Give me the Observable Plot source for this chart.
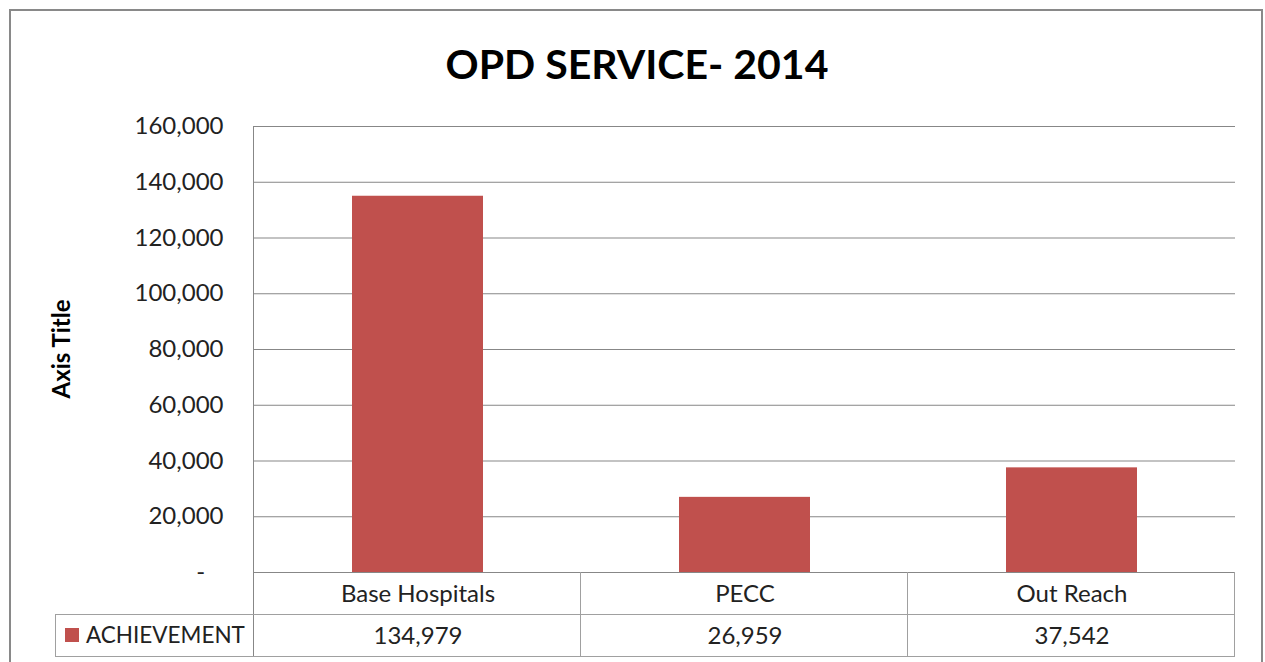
<!DOCTYPE html>
<html>
<head>
<meta charset="utf-8">
<script src="https://cdn.jsdelivr.net/npm/d3@7"></script>
<script src="https://cdn.jsdelivr.net/npm/@observablehq/plot@0.6"></script>
<style>
  html, body { margin: 0; padding: 0; background: #fff; }
  #chart svg { display: block; }
</style>
</head>
<body>
<div id="chart"></div>
<script>
const titleText = "OPD SERVICE- 2014";
const axisTitle = "Axis Title";
const seriesName = "ACHIEVEMENT";
const categories = ["Base Hospitals", "PECC", "Out Reach"];
const values = [134979, 26959, 37542];
const yTicks = [0, 20000, 40000, 60000, 80000, 100000, 120000, 140000, 160000];

const data = categories.map((c, i) => ({category: c, value: values[i]}));
const fmt = d3.format(",");
const barColor = "#C0504D";
const gridColor = "#878787";
const tableColor = "#A0A0A0";
const textColor = "#222";
const font = "Lato, 'Open Sans', sans-serif";
const fs = 24;

const W = 1265, H = 662;
const mL = 253, mR = 30, mT = 126, mB = 90;

const plot = Plot.plot({
  width: W,
  height: H,
  marginLeft: mL,
  marginRight: mR,
  marginTop: mT,
  marginBottom: mB,
  style: {fontFamily: font, fontSize: fs + "px", color: "#000", background: "#fff"},
  x: {domain: categories, paddingInner: 0.6, paddingOuter: 0.3, axis: null},
  y: {domain: [0, 160000], axis: null},
  marks: [
    Plot.ruleY(yTicks, {stroke: gridColor, strokeWidth: 1}),
    Plot.barY(data, {x: "category", y: "value", fill: barColor}),
    Plot.axisY({
      ticks: yTicks,
      tickSize: 0,
      tickPadding: 30,
      label: null,
      tickFormat: d => d === 0 ? "-\u00a0\u00a0\u00a0" : fmt(d),
      fontSize: fs,
      fill: textColor
    }),
    Plot.text(data, {x: "category", text: "category", frameAnchor: "bottom", lineAnchor: "middle", dy: 22, fontSize: fs, fill: textColor}),
    Plot.text(data, {x: "category", text: d => fmt(d.value), frameAnchor: "bottom", lineAnchor: "middle", dy: 64, fontSize: fs, fill: textColor})
  ]
});

document.getElementById("chart").appendChild(plot);

// decorations using the plot's own scales
const svg = d3.select(plot);
const xs = plot.scale("x");
const step = xs.step;
const x0 = xs.range[0];
const x1 = xs.range[1];
const yBase = H - mB;
const row1 = yBase + 42, row2 = yBase + 84;
const g = svg.append("g").attr("fill", "none").attr("shape-rendering", "crispEdges");

// left axis line
g.append("line").attr("x1", x0).attr("x2", x0).attr("y1", mT).attr("y2", row2).attr("stroke", gridColor);
// table horizontals
g.append("line").attr("x1", 55).attr("x2", x1).attr("y1", row1).attr("y2", row1).attr("stroke", tableColor);
g.append("line").attr("x1", 55).attr("x2", x1).attr("y1", row2).attr("y2", row2).attr("stroke", tableColor);
g.append("line").attr("x1", 55).attr("x2", 55).attr("y1", row1).attr("y2", row2).attr("stroke", tableColor);
// table verticals at category cell edges
categories.forEach((c, i) => {
  const xe = x0 + (i + 1) * step;
  g.append("line").attr("x1", xe).attr("x2", xe).attr("y1", yBase).attr("y2", row2).attr("stroke", tableColor);
});

// legend key in table
svg.append("rect").attr("x", 65).attr("y", 628).attr("width", 14).attr("height", 14).attr("fill", barColor);
svg.append("text").attr("x", 86).attr("y", (row1 + row2) / 2).attr("dy", "0.35em")
  .attr("text-anchor", "start")
  .attr("font-size", 22.5).attr("fill", textColor).text(seriesName);

// title
svg.append("text").attr("x", 637).attr("y", 65).attr("dy", "0.35em").attr("text-anchor", "middle")
  .attr("font-size", 41).attr("font-weight", "bold").attr("fill", "#000").text(titleText);

// axis title
svg.append("text").attr("transform", `translate(62,${(mT + yBase) / 2}) rotate(-90)`)
  .attr("dy", "0.35em").attr("text-anchor", "middle")
  .attr("font-size", fs).attr("font-weight", "bold").attr("fill", "#000").text(axisTitle);

// outer chart border
svg.append("rect").attr("x", 10).attr("y", 10).attr("width", 1252).attr("height", 700)
  .attr("fill", "none").attr("stroke", "#898989").attr("stroke-width", 2);
</script>
</body>
</html>
